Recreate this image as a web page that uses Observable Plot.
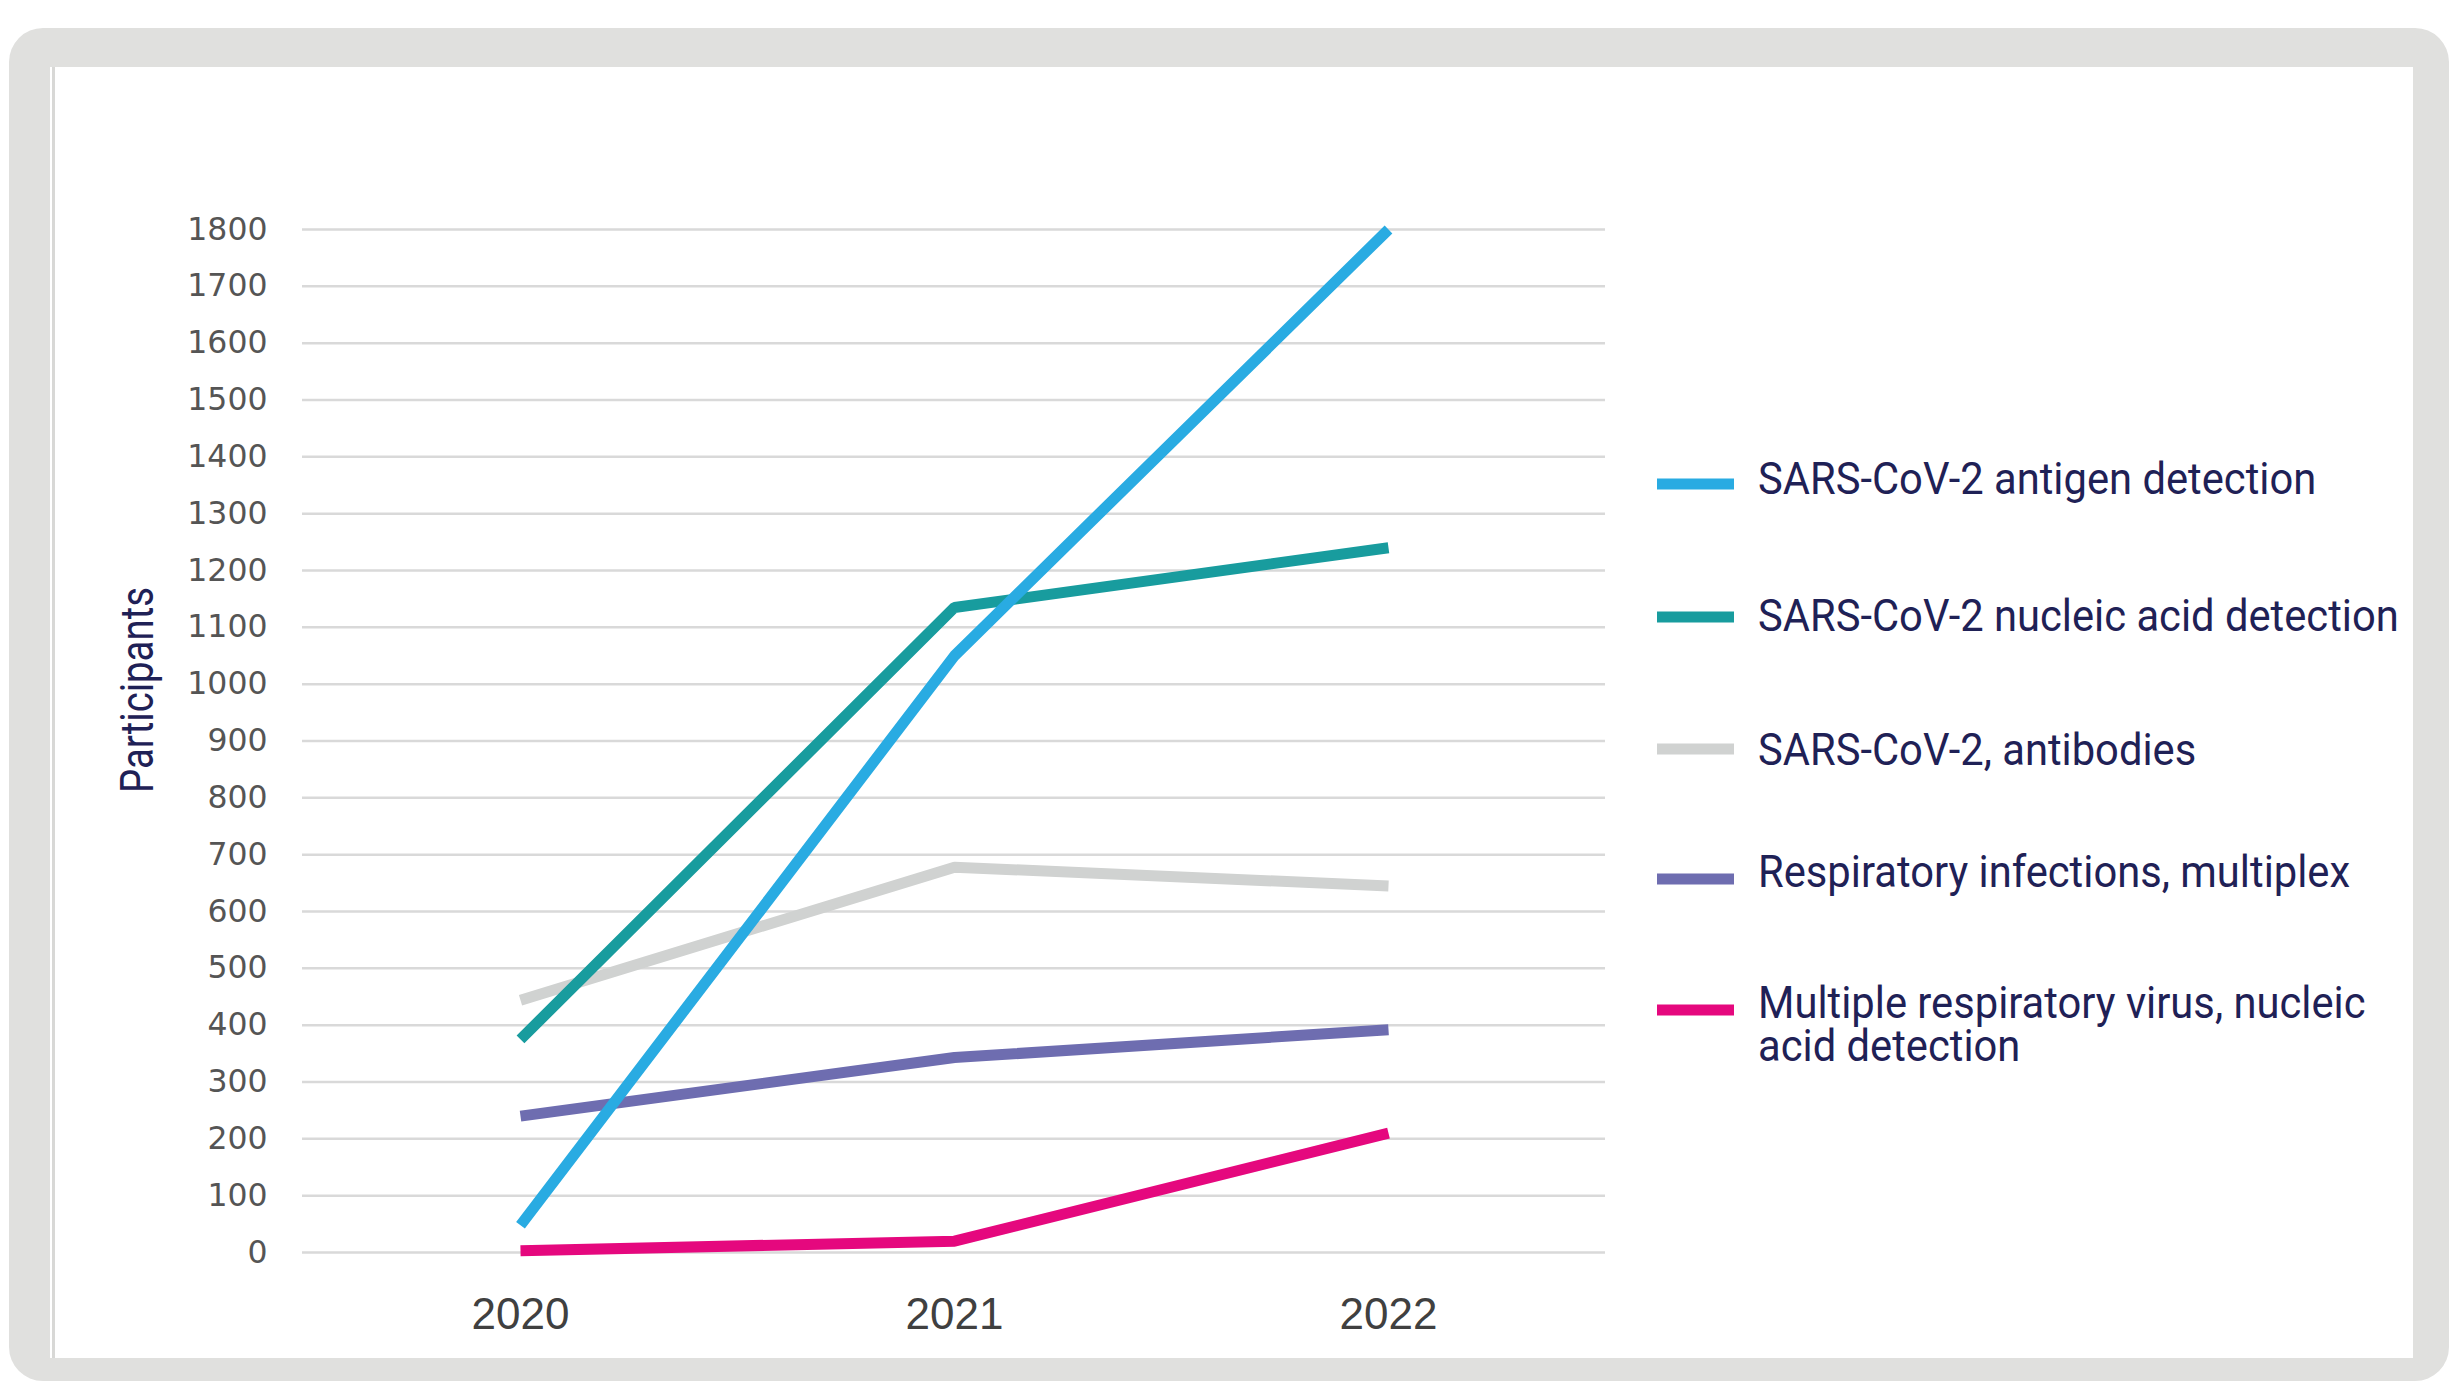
<!DOCTYPE html>
<html><head><meta charset="utf-8">
<script src="https://cdn.jsdelivr.net/npm/d3@7"></script>
<script src="https://cdn.jsdelivr.net/npm/@observablehq/plot@0.6"></script>
<style>
html,body{margin:0;padding:0;background:#fff;}
#page{position:relative;width:2452px;height:1381px;overflow:hidden;background:#fff;}
#frame{position:absolute;left:9px;top:28px;width:2440px;height:1353px;background:#e0e0de;border-radius:34px;}
#inner{position:absolute;left:50px;top:67px;width:2363px;height:1291px;background:#fff;}
#edge{position:absolute;left:52px;top:67px;width:3px;height:1291px;background:#d8d8d6;}
#chart{position:absolute;left:0;top:0;}
#overlay{position:absolute;left:0;top:0;}
</style></head>
<body>
<div id="page"><div id="frame"></div><div id="inner"></div><div id="edge"></div><div id="chart"></div><svg id="overlay" width="2452" height="1381"></svg></div>
<script>
// ---- data ----
const years = ["2020", "2021", "2022"];
const seriesNames = [
  "SARS-CoV-2 antigen detection",
  "SARS-CoV-2 nucleic acid detection",
  "SARS-CoV-2, antibodies",
  "Respiratory infections, multiplex",
  "Multiple respiratory virus, nucleic acid detection"
];
const seriesColors = ["#29abe2", "#189c9e", "#d0d2d1", "#6e6db0", "#e5087e"];
const antigenValues = [48, 1050, 1800];
const nucleicValues = [375, 1135, 1240];
const antibodyValues = [444, 678, 645];
const multiplexValues = [240, 343, 392];
const multiVirusValues = [3, 20, 210];
const yTicks = [0, 100, 200, 300, 400, 500, 600, 700, 800, 900, 1000, 1100, 1200, 1300, 1400, 1500, 1600, 1700, 1800];
const yLabel = "Participants";
const legendLines = [
  ["SARS-CoV-2 antigen detection"],
  ["SARS-CoV-2 nucleic acid detection"],
  ["SARS-CoV-2, antibodies"],
  ["Respiratory infections, multiplex"],
  ["Multiple respiratory virus, nucleic", "acid detection"]
];

// ---- table (drawing order: antibodies, multiplex, multi-virus, nucleic, antigen) ----
const valuesBySeries = [antigenValues, nucleicValues, antibodyValues, multiplexValues, multiVirusValues];
const drawOrder = [2, 3, 4, 1, 0];
const rows = [];
for (const s of drawOrder) years.forEach((yr, j) => rows.push({series: seriesNames[s], year: yr, value: valuesBySeries[s][j]}));

// ---- chart ----
const chart = Plot.plot({
  width: 1700, height: 1381,
  marginLeft: 302, marginRight: 95, marginTop: 229, marginBottom: 129,
  x: {type: "point", domain: years, padding: 0.5, label: null},
  y: {domain: [0, 1800], label: null},
  color: {domain: seriesNames, range: seriesColors},
  style: {background: "transparent", overflow: "visible"},
  marks: [
    Plot.gridY({ticks: yTicks, stroke: "#d9d9d9", strokeOpacity: 1, strokeWidth: 2.5}),
    Plot.axisY({ticks: yTicks, tickSize: 0, tickPadding: 35, fontSize: 31.5, fontFamily: "DejaVu Sans", fill: "#555555", label: null, tickFormat: d => String(d)}),
    Plot.axisX({tickSize: 0, tickPadding: 45, fontSize: 44, fontFamily: "Liberation Sans", fill: "#404040", label: null}),
    Plot.line(rows, {x: "year", y: "value", z: "series", stroke: "series", strokeWidth: 11, strokeLinecap: "butt", strokeLinejoin: "miter"})
  ]
});
document.getElementById("chart").appendChild(chart);

// ---- overlay: y label + legend ----
const navy = "#1f2156";
const ov = d3.select("#overlay");
const yl = ov.append("text")
  .attr("font-family", "Roboto").attr("font-size", 46).attr("fill", navy)
  .attr("text-anchor", "middle").text(yLabel);
const ylLen = yl.node().getComputedTextLength();
yl.attr("transform", `translate(153,690) rotate(-90) scale(${206 / ylLen},1)`);

const swatchY = [484, 617, 749, 879, 1010];
const textY = [494, 631, 765, 887, 1018];
const lineGap = 43;
const lg = ov.append("g");
const texts = [];
legendLines.forEach((lines, i) => {
  lg.append("rect").attr("x", 1657).attr("y", swatchY[i] - 5.5).attr("width", 77).attr("height", 11).attr("fill", seriesColors[i]);
  const el = lg.append("text").attr("font-family", "Roboto").attr("font-size", 44).attr("fill", navy);
  lines.forEach((t, k) => {
    el.append("tspan").attr("x", 0).attr("dy", k === 0 ? 0 : lineGap).text(t);
  });
  texts.push({el, y: textY[i]});
});
const widest = texts[1].el.node().getComputedTextLength();
const sx = 641 / widest;
texts.forEach(({el, y}) => el.attr("transform", `translate(1758,${y}) scale(${sx},1)`));
</script>
</body></html>
